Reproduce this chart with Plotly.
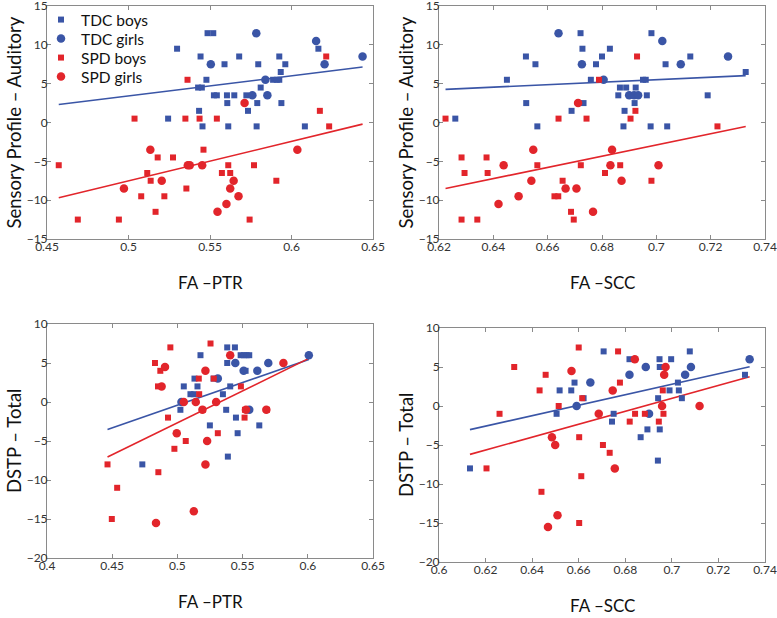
import plotly.graph_objects as go

# ---------------- Panel 1: FA-PTR vs Sensory Profile - Auditory ----------------
p1_tdc_boys_x = [0.5298, 0.5442, 0.5485, 0.5520, 0.5478, 0.5427, 0.5450, 0.5433, 0.5243, 0.5454,
                 0.5524, 0.5542, 0.5604, 0.5649, 0.5723, 0.5589, 0.5679, 0.5606, 0.5612, 0.5733,
                 0.5796, 0.5790, 0.5786, 0.5811, 0.5887, 0.5910, 0.5925, 0.5925, 0.5934, 0.5962,
                 0.5938, 0.6082, 0.6165]
p1_tdc_boys_y = [9.5, 8.5, 11.5, 11.5, 5.5, 4.5, 4.5, 1.5, 0.5, -0.5,
                 3.5, 3.5, 3.5, 3.5, 3.5, 7.5, 8.5, 2.5, -0.5, 1.5,
                 7.5, 2.5, -0.5, 4.5, 5.5, 5.5, 5.5, 8.5, 6.5, 7.5,
                 2.5, -0.5, 9.5]
p1_tdc_girls_x = [0.5505, 0.5784, 0.5760, 0.5840, 0.5852, 0.6151, 0.6203, 0.6436]
p1_tdc_girls_y = [7.5, 11.5, 3.5, 5.5, 3.5, 10.5, 7.5, 8.5]
p1_spd_boys_x = [0.4572, 0.4689, 0.4941, 0.5037, 0.5078, 0.5115, 0.5136, 0.5166, 0.5179, 0.5220,
                 0.5273, 0.5349, 0.5362, 0.5355, 0.5436, 0.5460, 0.5542, 0.5573, 0.5612, 0.5624,
                 0.5743, 0.5770, 0.5907, 0.6174, 0.6213, 0.6231]
p1_spd_boys_y = [-5.5, -12.5, -12.5, 0.5, -9.5, -6.5, -7.5, -11.5, -4.5, -9.5,
                 -4.5, 0.5, 5.5, -8.5, 0.5, -3.5, 0.5, -6.5, -5.5, -6.5,
                 -12.5, -5.5, -7.5, 1.5, 8.5, -0.5]
p1_spd_girls_x = [0.5134, 0.4972, 0.5204, 0.5364, 0.5376, 0.5452, 0.5546, 0.5601, 0.5624, 0.5645,
                  0.5675, 0.5712, 0.6036]
p1_spd_girls_y = [-3.5, -8.5, -7.5, -5.5, -5.5, -5.5, -11.5, -10.5, -8.5, -7.5,
                  -9.5, 2.5, -3.5]
p1_tdc_fit_x = [0.4572, 0.6436]
p1_tdc_fit_y = [2.31, 7.14]
p1_spd_fit_x = [0.4572, 0.6436]
p1_spd_fit_y = [-9.70, -0.21]

# ---------------- Panel 2: FA-SCC vs Sensory Profile - Auditory ----------------
p2_tdc_boys_x = [0.6260, 0.6450, 0.6520, 0.6521, 0.6555, 0.6562, 0.6688, 0.6721, 0.6728, 0.6732,
                 0.6759, 0.6778, 0.6800, 0.6829, 0.6860, 0.6866, 0.6889, 0.6883, 0.6879, 0.6920,
                 0.6924, 0.6951, 0.6961, 0.6965, 0.6979, 0.6982, 0.7034, 0.7040, 0.7125, 0.7189,
                 0.7329]
p2_tdc_boys_y = [0.5, 5.5, 8.5, 2.5, 7.5, -0.5, 1.5, 11.5, 9.5, 2.5,
                 5.5, 7.5, 8.5, 9.5, 3.5, 4.5, 4.5, 1.5, -0.5, 2.5,
                 4.5, 5.5, 5.5, 3.5, -0.5, 11.5, 7.5, -0.5, 8.5, 3.5,
                 6.5]
p2_tdc_girls_x = [0.6640, 0.6726, 0.6806, 0.6900, 0.6918, 0.6933, 0.7022, 0.7090, 0.7264]
p2_tdc_girls_y = [11.5, 7.5, 5.5, 3.5, 3.5, 3.5, 10.5, 7.5, 8.5]
p2_spd_boys_x = [0.6224, 0.6283, 0.6283, 0.6294, 0.6341, 0.6375, 0.6379, 0.6562, 0.6625, 0.6639,
                 0.6640, 0.6655, 0.6686, 0.6696, 0.6722, 0.6743, 0.6789, 0.6811, 0.6867, 0.6905,
                 0.6923, 0.6929, 0.6982, 0.7225]
p2_spd_boys_y = [0.5, -4.5, -12.5, -6.5, -12.5, -4.5, -6.5, -5.5, -9.5, -9.5,
                 0.5, -7.5, -11.5, -12.5, -5.5, 0.5, 5.5, -6.5, -5.5, 0.5,
                 1.5, 8.5, -7.5, -0.5]
p2_spd_girls_x = [0.6547, 0.6438, 0.6540, 0.6419, 0.6493, 0.6666, 0.6706, 0.6712, 0.6767, 0.6831,
                  0.6837, 0.6872, 0.7008]
p2_spd_girls_y = [-3.5, -5.5, -7.5, -10.5, -9.5, -8.5, -8.5, 2.5, -11.5, -5.5,
                  -3.5, -7.5, -5.5]
p2_tdc_fit_x = [0.6224, 0.7329]
p2_tdc_fit_y = [4.27, 6.03]
p2_spd_fit_x = [0.6224, 0.7329]
p2_spd_fit_y = [-8.50, -0.51]

# ---------------- Panel 3: FA-PTR vs DSTP - Total ----------------
p3_tdc_boys_x = [0.4731, 0.5023, 0.5049, 0.5100, 0.5126, 0.5131, 0.5154, 0.5177, 0.5249, 0.5277,
                 0.5349, 0.5374, 0.5382, 0.5382, 0.5387, 0.5405, 0.5441, 0.5449, 0.5462, 0.5485,
                 0.5510, 0.5531, 0.5551, 0.5523, 0.5628]
p3_tdc_boys_y = [-8, -1, 2, 1, 1, 3, 2, 6, -3, 3,
                 1, -1, 7, 5, -7, 2, 7, -2, -4, 6,
                 6, 6, 6, 4, -3]
p3_tdc_girls_x = [0.5031, 0.5310, 0.5444, 0.5508, 0.5551, 0.5613, 0.5697, 0.6008]
p3_tdc_girls_y = [0, 3, 5, 4, -1, 4, 5, 6]
p3_spd_boys_x = [0.4464, 0.4497, 0.4538, 0.4828, 0.4854, 0.4851, 0.4869, 0.4928, 0.4946, 0.4977,
                 0.5064, 0.5164, 0.5167, 0.5195, 0.5254, 0.5279, 0.5310, 0.5487, 0.5515, 0.5518,
                 0.5687]
p3_spd_boys_y = [-8, -15, -11, 5, -9, 2, 4, -2, 7, -6,
                 -5, 3, 1, -1, 7.5, 3, -4, 2, -2, -1,
                 -1]
p3_spd_girls_x = [0.4836, 0.4879, 0.4905, 0.4995, 0.5049, 0.5126, 0.5141, 0.5215, 0.5215, 0.5228,
                  0.5192, 0.5297, 0.5405, 0.5526, 0.5682, 0.5813]
p3_spd_girls_y = [-15.5, 2, 4.5, -4, 0, -14, 0, 4, -8, -5,
                  -1, 0, 6, -1, -1, 5]
p3_tdc_fit_x = [0.4464, 0.6008]
p3_tdc_fit_y = [-3.54, 5.46]
p3_spd_fit_x = [0.4464, 0.6008]
p3_spd_fit_y = [-7.06, 5.59]

# ---------------- Panel 4: FA-SCC vs DSTP - Total ----------------
p4_tdc_boys_x = [0.6133, 0.6518, 0.6505, 0.6568, 0.6582, 0.6621, 0.6707, 0.6743, 0.6750, 0.6818,
                 0.6866, 0.6895, 0.6940, 0.6941, 0.6947, 0.6948, 0.6948, 0.6990, 0.6997, 0.7026,
                 0.7030, 0.7043, 0.7077, 0.7314]
p4_tdc_boys_y = [-8, 2, -1, 2, 3, 1, 7, -2, -1, 6,
                 -4, -3, -7, 1, 6, 5, -3, 2, 6, 3,
                 2, 1, 7, 4]
p4_tdc_girls_x = [0.6591, 0.6650, 0.6818, 0.6888, 0.6902, 0.7057, 0.7082, 0.7334]
p4_tdc_girls_y = [0, 3, 4, 5, -1, 4, 5, 6]
p4_spd_boys_x = [0.6204, 0.6260, 0.6323, 0.6432, 0.6440, 0.6458, 0.6514, 0.6600, 0.6602, 0.6602,
                 0.6611, 0.6615, 0.6704, 0.6733, 0.6769, 0.6777, 0.6819, 0.6842, 0.6884, 0.6944,
                 0.6961, 0.6964]
p4_spd_boys_y = [-8, -1, 5, 2, -11, 4, 0, 7.5, -4, -15,
                 -9, 1, -5, -6, 7, 3, -2, -1, -1, -2,
                 2, -1]
p4_spd_girls_x = [0.6485, 0.6499, 0.6468, 0.6509, 0.6569, 0.6686, 0.6746, 0.6755, 0.6841, 0.6958,
                  0.6967, 0.6973, 0.7119]
p4_spd_girls_y = [-4, -5, -15.5, -14, 4.5, -1, 2, -8, 6, 0,
                  4, 5, 0]
p4_tdc_fit_x = [0.6133, 0.7334]
p4_tdc_fit_y = [-3.03, 5.04]
p4_spd_fit_x = [0.6133, 0.7334]
p4_spd_fit_y = [-6.20, 3.76]

# ---------------- Axis settings ----------------
x_ranges = [[0.45, 0.65], [0.62, 0.74], [0.4, 0.65], [0.6, 0.74]]
x_dtick = [0.05, 0.02, 0.05, 0.02]
y_ranges = [[-15, 15], [-15, 15], [-20, 10], [-20, 10]]
y_dtick = [5, 5, 5, 5]
x_titles = ["FA \u2013PTR", "FA \u2013SCC", "FA \u2013PTR", "FA \u2013SCC"]
y_titles = ["Sensory Profile \u2013 Auditory", "Sensory Profile \u2013 Auditory",
            "DSTP \u2013 Total", "DSTP \u2013 Total"]
legend_names = ["TDC boys", "TDC girls", "SPD boys", "SPD girls"]

BLUE = "#3a55a6"
RED = "#e2252b"
FONT = "Lato"

W, H = 777, 618
# plot-area boxes in pixels: (left, right, top, bottom)
boxes = [(47, 373, 6, 239), (439, 765, 6, 239), (47, 373, 324, 558), (439, 765, 328, 562)]

panels = [
    (p1_tdc_boys_x, p1_tdc_boys_y, p1_tdc_girls_x, p1_tdc_girls_y, p1_spd_boys_x, p1_spd_boys_y,
     p1_spd_girls_x, p1_spd_girls_y, p1_tdc_fit_x, p1_tdc_fit_y, p1_spd_fit_x, p1_spd_fit_y),
    (p2_tdc_boys_x, p2_tdc_boys_y, p2_tdc_girls_x, p2_tdc_girls_y, p2_spd_boys_x, p2_spd_boys_y,
     p2_spd_girls_x, p2_spd_girls_y, p2_tdc_fit_x, p2_tdc_fit_y, p2_spd_fit_x, p2_spd_fit_y),
    (p3_tdc_boys_x, p3_tdc_boys_y, p3_tdc_girls_x, p3_tdc_girls_y, p3_spd_boys_x, p3_spd_boys_y,
     p3_spd_girls_x, p3_spd_girls_y, p3_tdc_fit_x, p3_tdc_fit_y, p3_spd_fit_x, p3_spd_fit_y),
    (p4_tdc_boys_x, p4_tdc_boys_y, p4_tdc_girls_x, p4_tdc_girls_y, p4_spd_boys_x, p4_spd_boys_y,
     p4_spd_girls_x, p4_spd_girls_y, p4_tdc_fit_x, p4_tdc_fit_y, p4_spd_fit_x, p4_spd_fit_y),
]

fig = go.Figure()
layout = dict(
    template="none",
    width=W, height=H, margin=dict(l=0, r=0, t=0, b=0, pad=0, autoexpand=False),
    paper_bgcolor="white", plot_bgcolor="white",
    font=dict(family=FONT, size=12, color="#333333"),
    showlegend=True,
)
# one legend per entry so the row spacing matches the reference
legend_keys = ["legend", "legend2", "legend3", "legend4"]
legend_rows_px = [20, 39, 58, 77]
for key, row in zip(legend_keys, legend_rows_px):
    layout[key] = dict(x=41 / W, y=1 - row / H, xanchor="left", yanchor="middle",
                       bgcolor="rgba(0,0,0,0)", borderwidth=0,
                       font=dict(family=FONT, size=15.5, color="#111111"),
                       itemsizing="trace")

annotations = []
for i, (p, box) in enumerate(zip(panels, boxes)):
    n = "" if i == 0 else str(i + 1)
    xa, ya = "x" + n, "y" + n
    (tbx, tby, tgx, tgy, sbx, sby, sgx, sgy, tfx, tfy, sfx, sfy) = p
    leg = i == 0
    fig.add_trace(go.Scatter(x=tfx, y=tfy, mode="lines", line=dict(color=BLUE, width=1.6),
                             xaxis=xa, yaxis=ya, showlegend=False, hoverinfo="skip"))
    fig.add_trace(go.Scatter(x=sfx, y=sfy, mode="lines", line=dict(color=RED, width=1.6),
                             xaxis=xa, yaxis=ya, showlegend=False, hoverinfo="skip"))
    groups = [(tbx, tby, "square", 6, BLUE), (tgx, tgy, "circle", 8.5, BLUE),
              (sbx, sby, "square", 6, RED), (sgx, sgy, "circle", 8.5, RED)]
    for g, (gx, gy, sym, sz, col) in enumerate(groups):
        fig.add_trace(go.Scatter(x=gx, y=gy, mode="markers", name=legend_names[g],
                                 marker=dict(symbol=sym, size=sz, color=col, line=dict(width=0)),
                                 xaxis=xa, yaxis=ya, showlegend=leg, legend=legend_keys[g]))

    l, r, t, b = box
    common = dict(showgrid=False, zeroline=False, showline=True, linecolor="#8a8a8a",
                  linewidth=1, mirror="ticks", ticks="inside", ticklen=4, tickcolor="#8a8a8a",
                  automargin=False, ticklabeloverflow="allow",
                  tickfont=dict(family=FONT, size=12, color="#333333"))
    layout["xaxis" + n] = dict(domain=[l / W, r / W], range=x_ranges[i], dtick=x_dtick[i],
                               tick0=x_ranges[i][0], anchor=ya, ticklabelstandoff=-3, **common)
    layout["yaxis" + n] = dict(domain=[1 - b / H, 1 - t / H], range=y_ranges[i], dtick=y_dtick[i],
                               tick0=y_ranges[i][0], anchor=xa, ticklabelstandoff=-4, **common)
    # axis titles
    annotations.append(dict(text=x_titles[i], x=(l + r) / 2 / W, y=1 - (b + 43) / H,
                            xref="paper", yref="paper", showarrow=False,
                            font=dict(family=FONT, size=17, color="#111111"),
                            xanchor="center", yanchor="middle"))
    annotations.append(dict(text=y_titles[i], x=(l - 33) / W, y=1 - (t + b) / 2 / H,
                            xref="paper", yref="paper", showarrow=False, textangle=-90,
                            font=dict(family=FONT, size=18.5, color="#111111"),
                            xanchor="center", yanchor="middle"))

layout["annotations"] = annotations
fig.update_layout(**layout)
fig.write_html("out.html", config={"displayModeBar": False},
               post_script="document.body.style.margin='0';document.body.style.overflow='hidden';")
